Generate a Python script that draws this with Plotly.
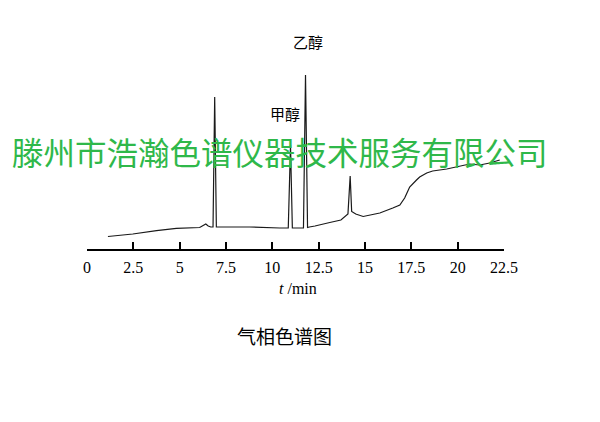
import plotly.graph_objects as go

# Chromatogram trace (time in min, detector signal in arbitrary units)
time_min = [1.13, 2.47, 3.75, 4.82, 6.08, 6.24, 6.41, 6.54, 6.68, 6.80, 6.89, 6.98, 7.10, 7.27,
            8.78, 10.40, 10.86, 10.98, 11.08, 11.59, 11.68, 11.79, 11.90, 12.00,
            12.30, 13.10, 13.70, 14.08, 14.20, 14.28, 14.50, 14.90, 15.30, 15.80,
            16.50, 16.88, 17.14, 17.41, 17.78, 17.95, 18.33, 18.65, 19.41, 19.95,
            20.65, 21.19, 21.73, 22.27]
signal = [12.5, 15.0, 18.3, 20.7, 21.5, 23.0, 25.0, 23.0, 22.0, 22.0, 152.0, 22.0, 22.0, 22.0,
          22.0, 21.0, 21.0, 104.0, 21.0, 21.0, 21.0, 174.0, 21.5, 22.0,
          23.0, 26.5, 29.0, 35.0, 73.0, 37.5, 35.0, 32.5, 34.0, 36.0,
          41.0, 44.0, 51.0, 62.0, 69.0, 72.0, 76.0, 78.0, 80.0, 82.0,
          85.0, 84.0, 86.0, 89.0]

tick_vals = [0, 2.5, 5, 7.5, 10, 12.5, 15, 17.5, 20, 22.5]
tick_text = ["0", "2.5", "5", "7.5", "10", "12.5", "15", "17.5", "20", "22.5"]

peak_labels = ["乙醇", "甲醇"]
x_title = "<i>t</i> /min"
caption = "气相色谱图"
watermark = "滕州市浩瀚色谱仪器技术服务有限公司"

fig = go.Figure()
fig.add_trace(go.Scatter(x=time_min, y=signal, mode="lines",
                         line=dict(color="#1a1a1a", width=1.2), hoverinfo="skip",
                         showlegend=False))

OFF = 8  # page body margin
W, H = 600 - OFF, 422 - OFF
L, T = 87 - OFF, 60 - OFF
pw, ph = 417, 189
R, B = W - L - pw, H - T - ph

def px(xp):
    return (xp - 87) / pw

def py(yp):
    return (249 - yp) / ph

def note(text, x, y, family, size, color="black"):
    return dict(text=text, xref="paper", yref="paper", x=px(x), y=py(y),
                xanchor="center", yanchor="middle", showarrow=False,
                font=dict(family=family, size=size, color=color))

fig.update_layout(
    width=W, height=H,
    margin=dict(l=L, r=R, t=T, b=B),
    paper_bgcolor="white", plot_bgcolor="white",
    xaxis=dict(range=[0, 22.5], tickvals=tick_vals, ticktext=tick_text,
               ticks="inside", ticklen=7, tickwidth=1.5, tickcolor="black",
               showline=True, linecolor="black", linewidth=2,
               showgrid=False, zeroline=False,
               tickfont=dict(family="Liberation Serif", size=16, color="black"),
               ticklabelstandoff=3),
    yaxis=dict(range=[0, 189], visible=False, showgrid=False, zeroline=False),
    annotations=[
        note(peak_labels[0], 308, 41, "Noto Sans CJK SC", 15),
        note(peak_labels[1], 285, 113, "Noto Sans CJK SC", 15),
        note(x_title, 298, 288, "Liberation Serif", 16),
        note(caption, 284, 335, "Noto Sans CJK SC", 19),
        note(watermark, 280, 151, "Noto Sans CJK SC", 31.5, "#2fb84a"),
    ],
)

fig.write_html("out.html")
